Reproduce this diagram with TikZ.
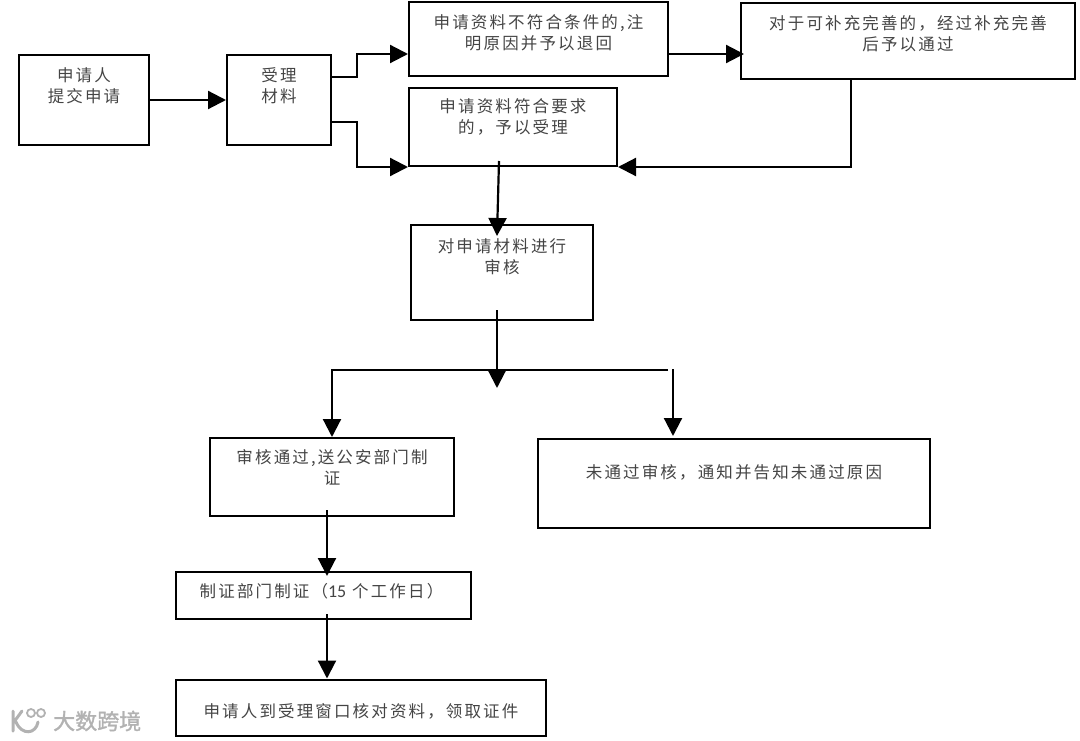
\documentclass[tikz,border=0pt]{standalone}
\usepackage{fontspec}
\setmainfont[LetterSpace=13]{Noto Sans CJK SC}
\newfontfamily\latinfont{Carlito}
\usetikzlibrary{arrows.meta, positioning}
\definecolor{inktext}{HTML}{444444}
\tikzstyle{cell} = [draw=black, line width=2pt, rectangle, inner sep=0pt]
\tikzstyle{celltext} = [anchor=north, align=center, text=inktext, font=\fontsize{16.5}{21}\selectfont, inner sep=0pt]
\tikzstyle{flow} = [draw=black, line width=2.2pt, -{Triangle[length=18pt,width=18pt]}]
\tikzstyle{stamp} = [text=black!30, font=\fontsize{22}{22}\selectfont\addfontfeature{LetterSpace=0,FakeBold=1.5}, inner sep=0pt]

\begin{document}
\begin{tikzpicture}[x=1pt,y=-1pt]
	\useasboundingbox (0,0) rectangle (1080,741);
	% boxes
	\node[cell, minimum width=130pt, minimum height=90pt] (apply) at (84,100) {};
	\node[cell, minimum width=104pt, minimum height=90pt] (accept) at (279,100) {};
	\node[cell, minimum width=259pt, minimum height=74pt] (reject) at (538.5,39) {};
	\node[cell, minimum width=334pt, minimum height=76pt] (amend) at (908,41) {};
	\node[cell, minimum width=208pt, minimum height=78pt] (valid) at (513,127) {};
	\node[cell, minimum width=182pt, minimum height=95pt] (review) at (502,272.5) {};
	\node[cell, minimum width=244pt, minimum height=78pt] (pass) at (332,477) {};
	\node[cell, minimum width=392pt, minimum height=89pt] (fail) at (734,483.5) {};
	\node[cell, minimum width=295pt, minimum height=47pt] (issue) at (323.5,595.5) {};
	\node[cell, minimum width=370pt, minimum height=56pt] (collect) at (361,707.5) {};
	% box texts
	\node[celltext] (applytxt) at ([yshift=-13pt]apply.north) {申请人\\提交申请};
	\node[celltext] (accepttxt) at ([yshift=-13pt]accept.north) {受理\\材料};
	\node[celltext] (rejecttxt) at ([yshift=-13pt]reject.north) {申请资料不符合条件的,注\\明原因并予以退回};
	\node[celltext] (amendtxt) at ([yshift=-13pt]amend.north) {对于可补充完善的，经过补充完善\\后予以通过};
	\node[celltext] (validtxt) at ([yshift=-11pt]valid.north) {申请资料符合要求\\的，予以受理};
	\node[celltext] (reviewtxt) at ([yshift=-14pt]review.north) {对申请材料进行\\审核};
	\node[celltext] (passtxt) at ([yshift=-12pt]pass.north) {审核通过,送公安部门制\\证};
	\node[celltext] (failtxt) at ([yshift=-26pt]fail.north) {未通过审核，通知并告知未通过原因};
	\node[celltext] (issuetxt) at ([yshift=-12pt,xshift=-2pt]issue.north) {制证部门制证（{\latinfont\fontsize{18}{21}\selectfont 15} 个工作日）};
	\node[celltext] (collecttxt) at ([yshift=-25pt]collect.north) {申请人到受理窗口核对资料，领取证件};
	% connectors
	\draw[flow] (apply.east) -- (accept.west);
	\draw[flow] ([yshift=23pt]accept.east) -- (357,77) |- ([yshift=-15pt]reject.west);
	\draw[flow] ([yshift=-22pt]accept.east) -- (357,122) |- (valid.south west);
	\draw[flow] ([yshift=-15pt]reject.east) -- ([yshift=-13pt,xshift=4pt]amend.west);
	\draw[flow] ([xshift=-57pt]amend.south) |- (valid.south east);
	\draw[flow] ([xshift=-14pt,yshift=6pt]valid.south) -- ([xshift=-5pt,yshift=-12pt]review.north);
	% split below review
	\coordinate (splitmid) at (497,388);
	\coordinate (splitright) at (668,370);
	\draw[flow] ([xshift=-5pt,yshift=11pt]review.south) -- (splitmid);
	\draw[flow] (splitright) -| (pass.north);
	\draw[flow] ([xshift=-61pt,yshift=69pt]fail.north) -- ([xshift=-61pt,yshift=2pt]fail.north);
	\draw[flow] ([xshift=-5pt,yshift=7pt]pass.south) -- ([xshift=3.5pt,yshift=-5pt]issue.north);
	\draw[flow] ([xshift=3.5pt,yshift=6pt]issue.south) -- ([xshift=-34pt]collect.north);
	% stamp in the corner
	\node[stamp, anchor=west] (stampname) at (53,721) {大数跨境};
	\draw[black!30, line width=3pt, line cap=round] (13,711) -- (13,731) (14,722) -- (22,711) (16,722) .. controls (22,736) and (36,734) .. (38,722);
	\draw[black!30, line width=1.8pt] (31,713) circle (4pt) (41,713) circle (4pt);
\end{tikzpicture}
\end{document}
